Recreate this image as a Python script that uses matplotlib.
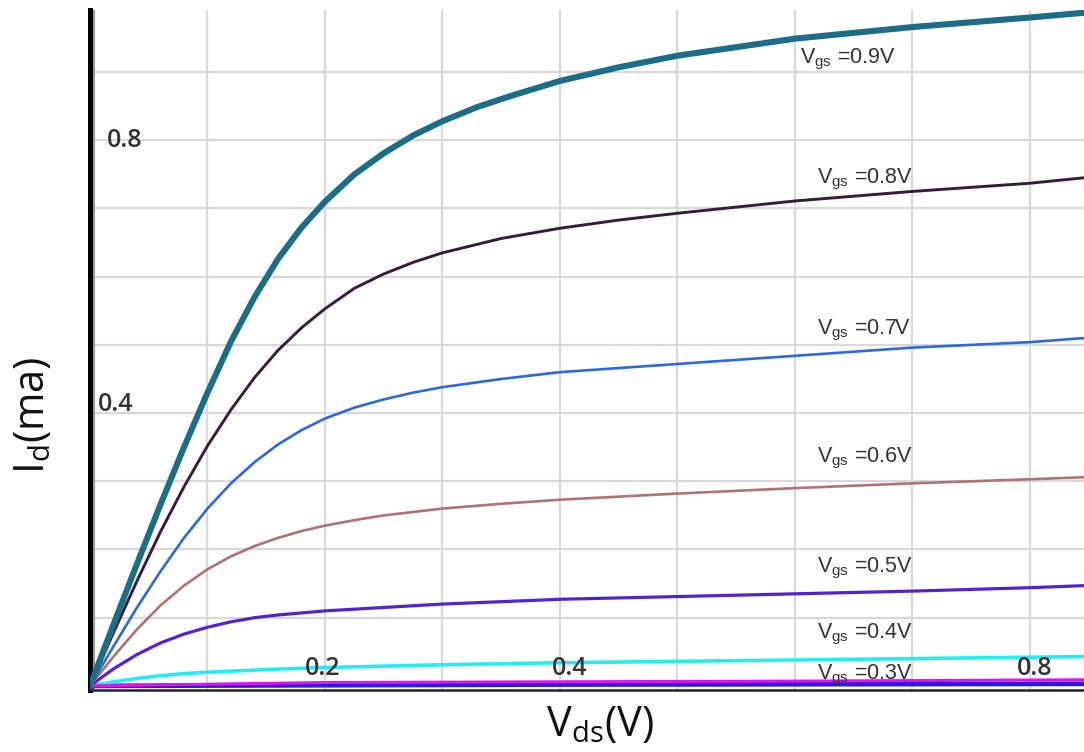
import matplotlib
matplotlib.use("Agg")
import matplotlib.pyplot as plt

plt.rcParams['font.family'] = ['Open Sans', 'DejaVu Sans']
plt.rcParams['mathtext.default'] = 'regular'

# ---- data (Vds in V, Id in mA) ----
x_09 = [0, 0.02, 0.04, 0.06, 0.08, 0.1, 0.12, 0.14, 0.16, 0.18, 0.2, 0.225, 0.25, 0.275, 0.3, 0.33, 0.36, 0.4, 0.45, 0.5, 0.6, 0.7, 0.8, 0.846]
y_09 = [0, 0.09, 0.179, 0.266, 0.35, 0.43, 0.505, 0.57, 0.626, 0.672, 0.71, 0.75, 0.781, 0.807, 0.828, 0.849, 0.866, 0.887, 0.907, 0.924, 0.949, 0.966, 0.98, 0.987]

x_08 = [0, 0.02, 0.04, 0.06, 0.08, 0.1, 0.12, 0.14, 0.16, 0.18, 0.2, 0.225, 0.25, 0.275, 0.3, 0.35, 0.4, 0.45, 0.5, 0.6, 0.7, 0.8, 0.846]
y_08 = [0, 0.078, 0.154, 0.226, 0.292, 0.352, 0.405, 0.452, 0.492, 0.525, 0.553, 0.583, 0.604, 0.621, 0.635, 0.656, 0.671, 0.683, 0.693, 0.711, 0.725, 0.737, 0.745]

x_07 = [0, 0.02, 0.04, 0.06, 0.08, 0.1, 0.12, 0.14, 0.16, 0.18, 0.2, 0.225, 0.25, 0.275, 0.3, 0.35, 0.4, 0.5, 0.6, 0.7, 0.8, 0.846]
y_07 = [0, 0.058, 0.115, 0.168, 0.217, 0.26, 0.297, 0.328, 0.354, 0.375, 0.392, 0.408, 0.42, 0.43, 0.438, 0.45, 0.46, 0.472, 0.484, 0.496, 0.504, 0.51]

x_06 = [0, 0.02, 0.04, 0.06, 0.08, 0.1, 0.12, 0.14, 0.16, 0.18, 0.2, 0.225, 0.25, 0.3, 0.35, 0.4, 0.5, 0.6, 0.7, 0.8, 0.846]
y_06 = [0, 0.043, 0.083, 0.118, 0.147, 0.171, 0.19, 0.205, 0.217, 0.227, 0.235, 0.243, 0.25, 0.26, 0.267, 0.273, 0.282, 0.29, 0.297, 0.303, 0.306]

x_05 = [0, 0.02, 0.04, 0.06, 0.08, 0.1, 0.12, 0.14, 0.16, 0.18, 0.2, 0.25, 0.3, 0.4, 0.5, 0.6, 0.7, 0.8, 0.846]
y_05 = [0, 0.025, 0.046, 0.063, 0.076, 0.086, 0.094, 0.1, 0.104, 0.107, 0.11, 0.115, 0.12, 0.127, 0.131, 0.135, 0.139, 0.144, 0.147]

x_04 = [0, 0.02, 0.04, 0.06, 0.08, 0.1, 0.15, 0.2, 0.3, 0.4, 0.6, 0.846]
y_04 = [0, 0.006, 0.011, 0.015, 0.018, 0.02, 0.024, 0.027, 0.031, 0.034, 0.038, 0.043]

x_03 = [0, 0.2, 0.4, 0.6, 0.846]
y_03 = [0, 0.005, 0.006, 0.007, 0.009]

x_02 = [0, 0.4, 0.846]
y_02 = [0, 0.002, 0.003]

labels = ['0.9V', '0.8V', '0.7V', '0.6V', '0.5V', '0.4V', '0.3V']
label_x = [0.604, 0.619, 0.619, 0.619, 0.619, 0.619, 0.619]
label_y = [0.913, 0.737, 0.516, 0.327, 0.167, 0.070, 0.009]

xtick_vals = [0.2, 0.4, 0.8]
xtick_pos = [0.198, 0.4085, 0.804]
ytick_vals = [0.4, 0.8]

fig = plt.figure(figsize=(10.84, 7.52), dpi=100)
ax = fig.add_axes([90/1084, 62/752, 1 - 90/1084, (690-10)/752])
ax.set_xlim(0, 0.846)
ax.set_ylim(-0.006, 0.991)

# grid
for gx in [0.1*i for i in range(1, 9)]:
    ax.axvline(gx, color='#d9d9d9', lw=1.6, zorder=0)
for gy in [0.1*i for i in range(1, 10)]:
    ax.axhline(gy, color='#d9d9d9', lw=1.6, zorder=0)

ax.plot(x_02, y_02, color='#2a1ae0', lw=3.4, zorder=3, solid_capstyle='butt')
ax.plot(x_03, y_03, color='#e014e6', lw=2.2, zorder=4, solid_capstyle='butt')
ax.plot(x_04, y_04, color='#22eef2', lw=2.6, zorder=3)
ax.plot(x_05, y_05, color='#5522d2', lw=2.3, zorder=3)
ax.plot(x_06, y_06, color='#b07272', lw=1.9, zorder=3)
ax.plot(x_07, y_07, color='#2d68e0', lw=1.9, zorder=3)
ax.plot(x_08, y_08, color='#3a1a3e', lw=2.1, zorder=3)
ax.plot(x_09, y_09, color='#1b6e86', lw=4.4, zorder=5)

# spines
for s in ['top', 'right']:
    ax.spines[s].set_visible(False)
ax.spines['left'].set_linewidth(3.6)
ax.spines['left'].set_color('black')
ax.spines['bottom'].set_linewidth(1.8)
ax.spines['bottom'].set_color('#222222')
ax.axvline(0.0035, color='#9a9a9a', lw=1.5, zorder=2)
ax.set_xticks([])
ax.set_yticks([])

# tick labels drawn inside
for v, p in zip(xtick_vals, xtick_pos):
    ax.text(p, 0.026, f'{v:.1f}', ha='center', va='center', fontsize=18,
            color='#333333', fontweight='semibold', zorder=6)
ytick_x = [0.007, 0.0145]
ytick_off = [0.012, 0.0]
for v, tx, off in zip(ytick_vals, ytick_x, ytick_off):
    ax.text(tx, v + off, f'{v:.1f}', ha='left', va='center', fontsize=18,
            color='#333333', fontweight='semibold', zorder=6)

# curve labels
for lab, lx, ly in zip(labels, label_x, label_y):
    ax.text(lx, ly, r'V$_{gs}$ =' + lab, ha='left', va='baseline', fontsize=15.5,
            family=['Liberation Sans', 'DejaVu Sans'], color='#333333', zorder=6)

# axis titles
fig.text(600/1084, 1 - 725/752, r'V$_{ds}$(V)', ha='center', va='center', fontsize=30, color='#111111')
fig.text(33/1084, 1 - 415/752, r'I$_{d}$(ma)', ha='center', va='center', fontsize=30,
         rotation=90, color='#111111')

fig.savefig('out.png', dpi=100)
